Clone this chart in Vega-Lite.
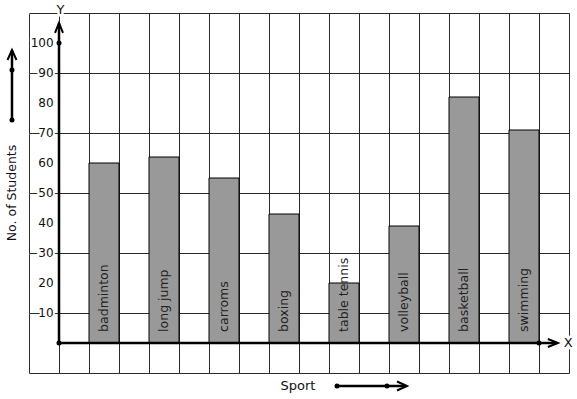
{
  "$schema": "https://vega.github.io/schema/vega-lite/v6.json",
  "width": 540,
  "height": 360,
  "autosize": {"type": "none"},
  "padding": {"left": 29, "top": 13, "right": 8, "bottom": 26},
  "background": "white",
  "config": {
    "font": "DejaVu Sans",
    "view": {"stroke": null},
    "axis": {"grid": true, "ticks": false, "domain": false, "gridColor": "#2a2a2a", "gridOpacity": 1, "gridWidth": 1, "titleOpacity": 0, "labelOverlap": false, "labelColor": "#ffffff", "labelFontSize": 2, "labelPadding": 0}
  },
  "resolve": {"scale": {"x": "independent"}, "axis": {"x": "independent"}},
  "layer": [
    {
      "data": {"values": [{"v": 10}, {"v": 20}, {"v": 30}, {"v": 40}, {"v": 50}, {"v": 60}, {"v": 70}, {"v": 80}, {"v": 90}, {"v": 100}]},
      "mark": {"type": "text", "align": "right", "baseline": "middle", "fontSize": 12, "fill": "white", "stroke": "white", "strokeWidth": 4},
      "encoding": {
        "x": {"datum": -0.18, "type": "quantitative", "scale": {"domain": [-1, 17], "nice": false, "zero": false}, "axis": {"grid": true, "orient": "bottom", "values": [-1, 0, 1, 2, 3, 4, 5, 6, 7, 8, 9, 10, 11, 12, 13, 14, 15, 16, 17], "labels": true, "ticks": false, "domain": false, "title": null}},
        "y": {"field": "v", "type": "quantitative", "scale": {"domain": [-10, 110], "nice": false, "zero": false}, "axis": {"grid": true, "values": [-10, 0, 10, 20, 30, 40, 50, 60, 70, 80, 90, 100, 110], "labels": true, "ticks": false, "domain": false, "title": null}},
        "text": {"field": "v"}
      }
    },
    {
      "data": {"values": [{"v": 10}, {"v": 20}, {"v": 30}, {"v": 40}, {"v": 50}, {"v": 60}, {"v": 70}, {"v": 80}, {"v": 90}, {"v": 100}]},
      "mark": {"type": "text", "align": "right", "baseline": "middle", "fontSize": 12, "fill": "#111111"},
      "encoding": {
        "x": {"datum": -0.18, "type": "quantitative", "scale": {"domain": [-1, 17], "nice": false, "zero": false}, "axis": null},
        "y": {"field": "v", "type": "quantitative"},
        "text": {"field": "v"}
      }
    },
    {
      "data": {"values": [
        {"sport": "badminton", "students": 60},
        {"sport": "long jump", "students": 62},
        {"sport": "carroms", "students": 55},
        {"sport": "boxing", "students": 43},
        {"sport": "table tennis", "students": 20},
        {"sport": "volleyball", "students": 39},
        {"sport": "basketball", "students": 82},
        {"sport": "swimming", "students": 71}
      ]},
      "layer": [
        {
          "mark": {"type": "bar", "fill": "#999999", "stroke": "#000000", "strokeWidth": 1},
          "encoding": {
            "x": {"field": "sport", "type": "nominal", "sort": null, "scale": {"type": "band", "range": [0, 540], "paddingInner": 0.5, "paddingOuter": 0.75, "align": 0.6667}, "axis": null},
            "y": {"field": "students", "type": "quantitative"},
            "y2": {"datum": 0}
          }
        },
        {
          "mark": {"type": "text", "angle": 270, "align": "left", "baseline": "middle", "fontSize": 12.5, "fill": "#222222"},
          "encoding": {
            "x": {"field": "sport", "type": "nominal", "sort": null, "scale": {"type": "band", "range": [0, 540], "paddingInner": 0.5, "paddingOuter": 0.75, "align": 0.6667}, "axis": null},
            "y": {"datum": 3.7, "type": "quantitative"},
            "text": {"field": "sport"}
          }
        }
      ]
    },
    {
      "data": {"values": [{}]},
      "layer": [
        {
          "mark": {"type": "rule", "stroke": "#000000", "strokeWidth": 2.5},
          "encoding": {
            "x": {"datum": 0, "type": "quantitative", "scale": {"domain": [-1, 17], "nice": false, "zero": false}, "axis": null},
            "y": {"datum": 0, "type": "quantitative"},
            "y2": {"datum": 106.6}
          }
        },
        {
          "mark": {"type": "rule", "stroke": "#000000", "strokeWidth": 2.5},
          "encoding": {
            "x": {"datum": 0, "type": "quantitative", "axis": null},
            "x2": {"datum": 16.6},
            "y": {"datum": 0, "type": "quantitative"}
          }
        },
        {
          "mark": {"type": "point", "shape": "M -0.4 1 L 0 0 L 0.4 1", "size": 400, "filled": false, "stroke": "#000000", "strokeWidth": 2, "opacity": 1},
          "encoding": {
            "x": {"datum": 0, "type": "quantitative", "axis": null},
            "y": {"datum": 106.7, "type": "quantitative"}
          }
        },
        {
          "mark": {"type": "point", "shape": "M -1 -0.4 L 0 0 L -1 0.4", "size": 400, "filled": false, "stroke": "#000000", "strokeWidth": 2, "opacity": 1},
          "encoding": {
            "x": {"datum": 16.63, "type": "quantitative", "axis": null},
            "y": {"datum": 0, "type": "quantitative"}
          }
        },
        {
          "mark": {"type": "point", "shape": "circle", "size": 25, "filled": true, "fill": "#000000", "opacity": 1},
          "encoding": {
            "x": {"datum": 0, "type": "quantitative", "axis": null},
            "y": {"datum": 0, "type": "quantitative"}
          }
        },
        {
          "mark": {"type": "point", "shape": "circle", "size": 25, "filled": true, "fill": "#000000", "opacity": 1},
          "encoding": {
            "x": {"datum": 0, "type": "quantitative", "axis": null},
            "y": {"datum": 100, "type": "quantitative"}
          }
        },
        {
          "mark": {"type": "point", "shape": "circle", "size": 25, "filled": true, "fill": "#000000", "opacity": 1},
          "encoding": {
            "x": {"datum": 16, "type": "quantitative", "axis": null},
            "y": {"datum": 0, "type": "quantitative"}
          }
        },
        {
          "mark": {"type": "rule", "stroke": "#000000", "strokeWidth": 2.5, "clip": false},
          "encoding": {
            "x": {"datum": -1.567, "type": "quantitative", "axis": null},
            "y": {"datum": 74.33, "type": "quantitative"},
            "y2": {"datum": 97.6}
          }
        },
        {
          "mark": {"type": "point", "shape": "M -0.45 1 L 0 0 L 0.45 1", "size": 400, "filled": false, "stroke": "#000000", "strokeWidth": 2, "opacity": 1, "clip": false},
          "encoding": {
            "x": {"datum": -1.567, "type": "quantitative", "axis": null},
            "y": {"datum": 97.67, "type": "quantitative"}
          }
        },
        {
          "mark": {"type": "point", "shape": "circle", "size": 25, "filled": true, "fill": "#000000", "opacity": 1, "clip": false},
          "encoding": {
            "x": {"datum": -1.567, "type": "quantitative", "axis": null},
            "y": {"datum": 74.33, "type": "quantitative"}
          }
        },
        {
          "mark": {"type": "point", "shape": "circle", "size": 25, "filled": true, "fill": "#000000", "opacity": 1, "clip": false},
          "encoding": {
            "x": {"datum": -1.567, "type": "quantitative", "axis": null},
            "y": {"datum": 91, "type": "quantitative"}
          }
        },
        {
          "mark": {"type": "rule", "stroke": "#000000", "strokeWidth": 2.5, "clip": false},
          "encoding": {
            "x": {"datum": 9.267, "type": "quantitative", "axis": null},
            "x2": {"datum": 11.57},
            "y": {"datum": -14.33, "type": "quantitative"}
          }
        },
        {
          "mark": {"type": "point", "shape": "M -1 -0.45 L 0 0 L -1 0.45", "size": 400, "filled": false, "stroke": "#000000", "strokeWidth": 2, "opacity": 1, "clip": false},
          "encoding": {
            "x": {"datum": 11.6, "type": "quantitative", "axis": null},
            "y": {"datum": -14.33, "type": "quantitative"}
          }
        },
        {
          "mark": {"type": "point", "shape": "circle", "size": 25, "filled": true, "fill": "#000000", "opacity": 1, "clip": false},
          "encoding": {
            "x": {"datum": 9.267, "type": "quantitative", "axis": null},
            "y": {"datum": -14.33, "type": "quantitative"}
          }
        },
        {
          "mark": {"type": "point", "shape": "circle", "size": 25, "filled": true, "fill": "#000000", "opacity": 1, "clip": false},
          "encoding": {
            "x": {"datum": 10.933, "type": "quantitative", "axis": null},
            "y": {"datum": -14.33, "type": "quantitative"}
          }
        },
        {
          "mark": {"type": "text", "text": "No. of Students", "angle": 270, "align": "center", "baseline": "middle", "fontSize": 12.5, "fill": "#111111", "clip": false},
          "encoding": {
            "x": {"datum": -1.567, "type": "quantitative", "axis": null},
            "y": {"datum": 50, "type": "quantitative"}
          }
        },
        {
          "mark": {"type": "text", "text": "Sport", "align": "center", "baseline": "middle", "fontSize": 13, "fill": "#111111", "clip": false},
          "encoding": {
            "x": {"datum": 7.967, "type": "quantitative", "axis": null},
            "y": {"datum": -14.33, "type": "quantitative"}
          }
        },
        {
          "mark": {"type": "text", "text": "Y", "align": "center", "baseline": "middle", "fontSize": 13, "fill": "white", "stroke": "white", "strokeWidth": 5, "clip": false},
          "encoding": {
            "x": {"datum": 0.05, "type": "quantitative", "axis": null},
            "y": {"datum": 111, "type": "quantitative"}
          }
        },
        {
          "mark": {"type": "text", "text": "Y", "align": "center", "baseline": "middle", "fontSize": 13, "fill": "#111111", "clip": false},
          "encoding": {
            "x": {"datum": 0.05, "type": "quantitative", "axis": null},
            "y": {"datum": 111, "type": "quantitative"}
          }
        },
        {
          "mark": {"type": "text", "text": "X", "align": "center", "baseline": "middle", "fontSize": 13, "fill": "white", "stroke": "white", "strokeWidth": 5, "clip": false},
          "encoding": {
            "x": {"datum": 16.97, "type": "quantitative", "axis": null},
            "y": {"datum": 0, "type": "quantitative"}
          }
        },
        {
          "mark": {"type": "text", "text": "X", "align": "center", "baseline": "middle", "fontSize": 13, "fill": "#111111", "clip": false},
          "encoding": {
            "x": {"datum": 16.97, "type": "quantitative", "axis": null},
            "y": {"datum": 0, "type": "quantitative"}
          }
        }
      ]
    }
  ]
}
